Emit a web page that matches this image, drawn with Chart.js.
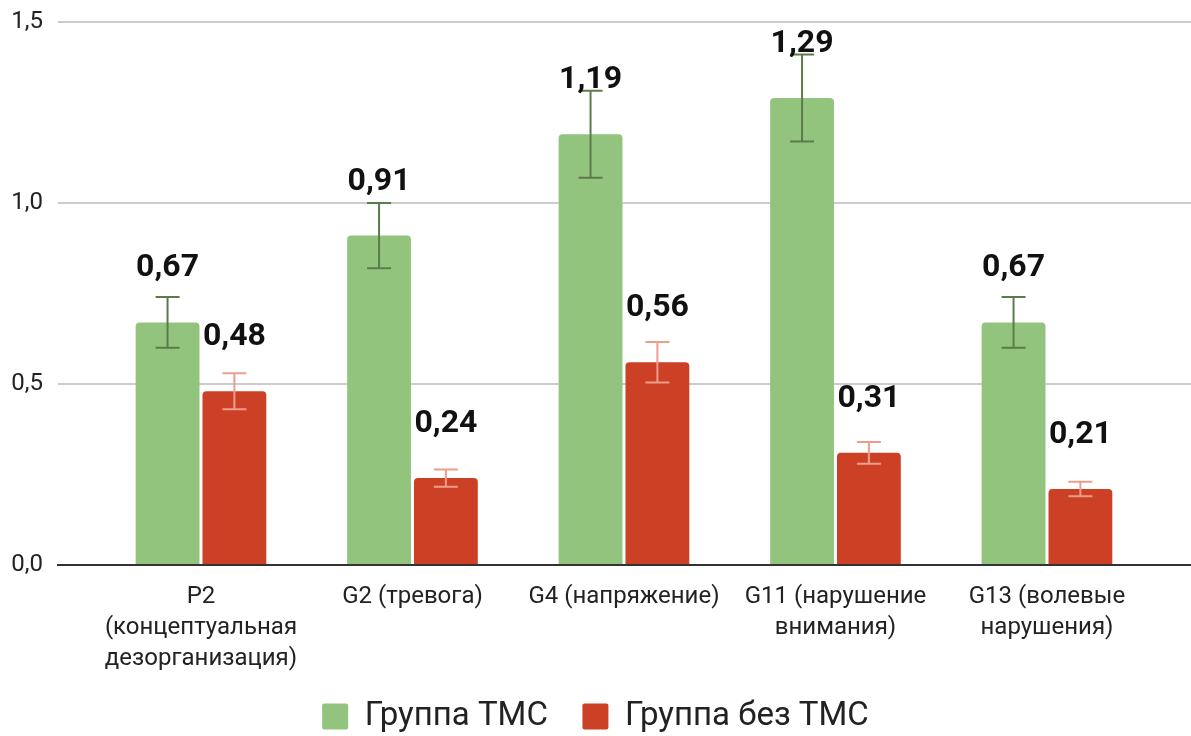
<!DOCTYPE html>
<html>
<head>
<meta charset="utf-8">
<script src="https://cdn.jsdelivr.net/npm/chart.js@4.4.1/dist/chart.umd.min.js"></script>
<style>
  html, body { margin: 0; padding: 0; background: #fff; }
  #wrap { width: 1191px; height: 736px; }
</style>
</head>
<body>
<div id="wrap"><canvas id="myChart" width="1191" height="736"></canvas></div>
<script>
// categories (multi-line tick labels)
const categories = [
    ['P2', '(концептуальная', 'дезорганизация)'],
    ['G2 (тревога)'],
    ['G4 (напряжение)'],
    ['G11 (нарушение', 'внимания)'],
    ['G13 (волевые', 'нарушения)']
];
const seriesNames = ['Группа ТМС', 'Группа без ТМС'];
const tmsValues = [0.67, 0.91, 1.19, 1.29, 0.67];
const noTmsValues = [0.48, 0.24, 0.56, 0.31, 0.21];
// error bar half-widths
const tmsErrors = [0.07, 0.09, 0.12, 0.12, 0.07];
const noTmsErrors = [0.05, 0.024, 0.056, 0.03, 0.02];
const yTicks = [0, 0.5, 1.0, 1.5];

const green = '#93c47d';
const red = '#cc4125';
const greenErr = '#5b7c4a';
const redErr = '#ee9d8d';

function fmt(v, digits) {
    return v.toFixed(digits).replace('.', ',');
}

// draws error bars + value labels on top of the bars
const errorBarsPlugin = {
    id: 'errorBars',
    afterDatasetsDraw(chart) {
        const ctx = chart.ctx;
        const yScale = chart.scales.y;
        const errSets = [tmsErrors, noTmsErrors];
        const errColors = [greenErr, redErr];
        chart.data.datasets.forEach((ds, i) => {
            const meta = chart.getDatasetMeta(i);
            meta.data.forEach((bar, j) => {
                const v = ds.data[j].y;
                const e = errSets[i][j];
                const yHi = yScale.getPixelForValue(v + e);
                const yLo = yScale.getPixelForValue(v - e);
                ctx.save();
                ctx.strokeStyle = errColors[i];
                ctx.lineWidth = 2;
                ctx.beginPath();
                ctx.moveTo(bar.x, yHi);
                ctx.lineTo(bar.x, yLo);
                ctx.moveTo(bar.x - 12, yHi);
                ctx.lineTo(bar.x + 12, yHi);
                ctx.moveTo(bar.x - 12, yLo);
                ctx.lineTo(bar.x + 12, yLo);
                ctx.stroke();
                ctx.restore();
            });
        });
        // value labels
        chart.data.datasets.forEach((ds, i) => {
            const meta = chart.getDatasetMeta(i);
            meta.data.forEach((bar, j) => {
                ctx.save();
                ctx.font = 'bold 32px Roboto';
                ctx.fillStyle = '#111';
                ctx.textAlign = 'center';
                ctx.textBaseline = 'alphabetic';
                ctx.fillText(fmt(ds.data[j].y, 2), bar.x, bar.y - 46);
                ctx.restore();
            });
        });
    }
};

let ctx = document.getElementById('myChart').getContext('2d');

let myChart = new Chart(ctx, {
    type: 'bar',
    data: {
        datasets: [{
            label: seriesNames[0],
            data: tmsValues.map((v, i) => ({x: i, y: v})),
            backgroundColor: green,
            borderWidth: 0,
            borderRadius: 4,
            categoryPercentage: 0.632,
            barPercentage: 0.955
        }, {
            label: seriesNames[1],
            data: noTmsValues.map((v, i) => ({x: i, y: v})),
            backgroundColor: red,
            borderWidth: 0,
            borderRadius: 4,
            categoryPercentage: 0.632,
            barPercentage: 0.955
        }]
    },
    options: {
        responsive: false,
        animation: false,
        layout: {
            autoPadding: false,
            padding: {top: 22, right: 0, bottom: 0, left: 0}
        },
        scales: {
            x: {
                type: 'linear',
                min: -0.676,
                max: 4.681,
                offset: false,
                afterBuildTicks: function (scale) {
                    scale.ticks = categories.map((c, i) => ({value: i}));
                },
                afterFit: function (scale) {
                    scale.height = 125;
                },
                ticks: {
                    autoSkip: false,
                    maxRotation: 0,
                    padding: 16,
                    color: '#222',
                    font: {family: 'Roboto', size: 24, lineHeight: 1.3},
                    callback: function (value) {
                        return categories[value];
                    }
                },
                grid: {display: false, drawTicks: false},
                border: {display: true, color: '#333', width: 2}
            },
            y: {
                min: 0,
                max: 1.5,
                afterBuildTicks: function (scale) {
                    scale.ticks = yTicks.map(v => ({value: v}));
                },
                afterFit: function (scale) {
                    scale.width = 58;
                    scale.paddingTop = 0;
                    scale.paddingBottom = 0;
                },
                ticks: {
                    padding: 15,
                    color: '#222',
                    font: {family: 'Roboto', size: 24},
                    callback: function (value) {
                        return fmt(value, 1);
                    }
                },
                grid: {
                    color: ctx => ctx.tick && ctx.tick.value === 0 ? 'rgba(0,0,0,0)' : '#cccccc',
                    lineWidth: 2,
                    drawTicks: false
                },
                border: {display: false}
            }
        },
        plugins: {
            legend: {
                position: 'bottom',
                maxHeight: 46,
                labels: {
                    color: '#222',
                    font: {family: 'Roboto', size: 33},
                    boxWidth: 26,
                    boxHeight: 26,
                    useBorderRadius: true,
                    borderRadius: 2,
                    padding: 10,
                    generateLabels: function (chart) {
                        const items = Chart.defaults.plugins.legend.labels.generateLabels(chart);
                        // widen the gap after the first item
                        items[0].text = items[0].text + '   ';
                        return items;
                    }
                }
            },
            tooltip: {enabled: false}
        }
    },
    plugins: [errorBarsPlugin]
});
</script>
</body>
</html>
